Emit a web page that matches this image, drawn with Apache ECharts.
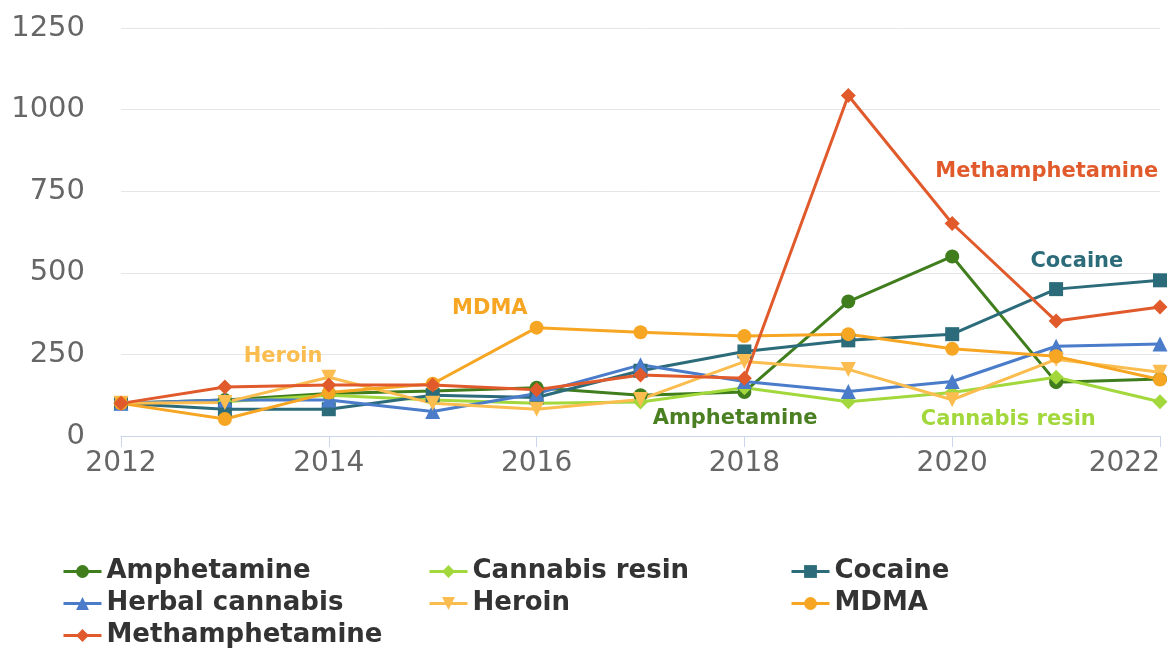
<!DOCTYPE html>
<html>
<head>
<meta charset="utf-8">
<script src="https://cdn.jsdelivr.net/npm/echarts@6/dist/echarts.min.js"></script>
<style>
  html, body { margin: 0; padding: 0; background: #fff; }
  #chart { width: 1168px; height: 652px; }
</style>
</head>
<body>
<div id="chart"></div>
<script>
// data
const years = [2012, 2013, 2014, 2015, 2016, 2017, 2018, 2019, 2020, 2021, 2022];
const seriesNames = ['Amphetamine', 'Cannabis resin', 'Cocaine', 'Herbal cannabis', 'Heroin', 'MDMA', 'Methamphetamine'];
const amphetamine     = [100, 110, 130, 138, 148, 125, 135, 412, 550, 165, 175];
const cannabisResin   = [100, 105, 125, 110, 100, 104, 148, 105, 133, 180, 105];
const cocaine         = [100, 82, 82, 125, 118, 200, 259, 293, 312, 450, 477];
const herbalCannabis  = [100, 110, 110, 75, 130, 218, 167, 136, 167, 275, 282];
const heroin          = [100, 103, 180, 100, 82, 112, 228, 204, 111, 235, 195];
const mdma            = [100, 52, 133, 160, 332, 318, 306, 312, 267, 244, 173];
const methamphetamine = [100, 150, 156, 156, 142, 187, 177, 1043, 651, 352, 395];
const yTicks = [0, 250, 500, 750, 1000, 1250];
// where each series name is written on the plot (year, value)
const labelAnchors = [[2017.91, 55], [2020.54, 49], [2021.2, 533], null, [2013.56, 242], [2015.55, 392], [2020.91, 809]];

const values = [amphetamine, cannabisResin, cocaine, herbalCannabis, heroin, mdma, methamphetamine];
const colors = ['#3f7d1d', '#a2d83c', '#2c6b7a', '#4a7cca', '#fbbd4f', '#f6a623', '#e05a2b'];
const labelColors = ['#4a8022', '#a2d83c', '#2c6b7a', '#4a7cca', '#fbbd4f', '#f6a623', '#e05a2b'];
const symbols = ['circle', 'diamond', 'rect', 'triangle', 'triangle', 'circle', 'diamond'];

const chart = echarts.init(document.getElementById('chart'));

const series = seriesNames.map((name, i) => {
  const s = {
    name: name,
    type: 'line',
    data: years.map((y, j) => [y, values[i][j]]),
    symbol: symbols[i],
    symbolSize: symbols[i] === 'triangle' ? 15 : (symbols[i] === 'diamond' ? 15 : 14),
    symbolRotate: name === 'Heroin' ? 180 : 0,
    showAllSymbol: true,
    lineStyle: { width: 3, color: colors[i] },
    itemStyle: { color: colors[i] },
    emphasis: { disabled: true }
  };
  if (labelAnchors[i]) {
    s.markPoint = {
      symbol: 'circle',
      symbolSize: 0,
      silent: true,
      label: {
        show: true,
        position: 'inside',
        formatter: name,
        fontFamily: 'DejaVu Sans',
        fontWeight: 'bold',
        fontSize: 21,
        color: labelColors[i]
      },
      data: [{ coord: labelAnchors[i] }]
    };
  }
  return s;
});

// legend in three columns, like the original
const legendLefts = [62, 428, 790];
const legends = legendLefts.map((left, c) => ({
  orient: 'vertical',
  left: left,
  top: 558,
  padding: 0,
  itemWidth: 38,
  itemHeight: 16,
  itemGap: 5,
  selectedMode: false,
  lineStyle: { width: 3 },
  data: seriesNames.filter((n, i) => i % 3 === c),
  textStyle: {
    fontFamily: 'DejaVu Sans',
    fontWeight: 'bold',
    fontSize: 26,
    lineHeight: 27,
    color: '#333'
  }
}));

const option = {
  animation: false,
  backgroundColor: '#fff',
  grid: { left: 121, right: 8, top: 28, bottom: 216, containLabel: false, outerBoundsMode: 'none' },
  legend: legends,
  xAxis: {
    type: 'value',
    min: years[0],
    max: years[years.length - 1],
    interval: 2,
    splitLine: { show: false },
    axisLine: { lineStyle: { color: '#ccd6eb', width: 1 } },
    axisTick: { show: true, length: 11, lineStyle: { color: '#ccd6eb' } },
    axisLabel: {
      fontFamily: 'DejaVu Sans',
      fontSize: 28,
      color: '#666',
      margin: 14,
      alignMaxLabel: 'right',
      formatter: v => String(v)
    }
  },
  yAxis: {
    type: 'value',
    min: yTicks[0],
    max: yTicks[yTicks.length - 1],
    interval: 250,
    axisLine: { show: false },
    axisTick: { show: false },
    splitLine: { lineStyle: { color: '#e6e6e6', width: 1 } },
    axisLabel: {
      fontFamily: 'DejaVu Sans',
      fontSize: 29,
      color: '#666',
      margin: 36,
      formatter: v => String(v)
    }
  },
  series: series
};

chart.setOption(option);
</script>
</body>
</html>
